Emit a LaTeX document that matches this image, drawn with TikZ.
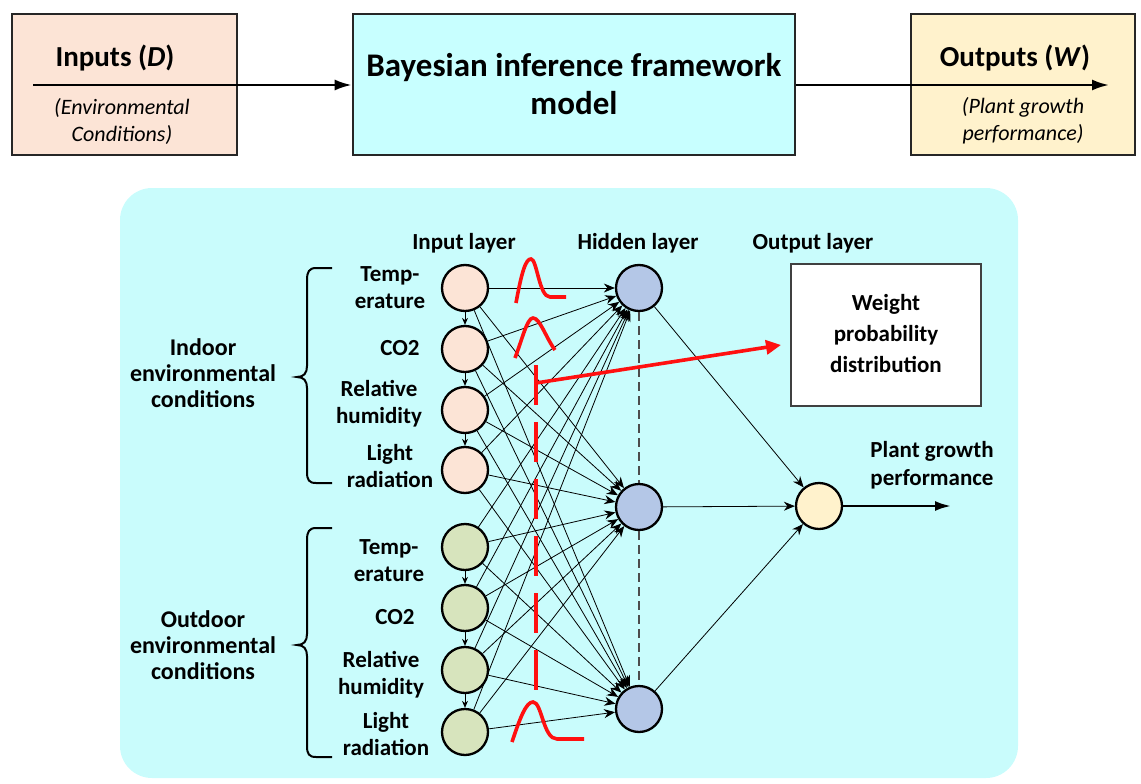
\documentclass[tikz,border=0pt]{standalone}
\usepackage{fontspec}
\setmainfont{Carlito}
\usetikzlibrary{arrows.meta,calc}
\definecolor{peach}{HTML}{FCE4D6}
\definecolor{cyanbox}{HTML}{C8FFFF}
\definecolor{panel}{HTML}{C9FCFC}
\definecolor{ylw}{HTML}{FFF2CC}
\definecolor{grn}{HTML}{D7E4BD}
\definecolor{hblue}{HTML}{B4C7E7}
\definecolor{redc}{HTML}{FF1010}
\begin{document}
\begin{tikzpicture}[x=1pt,y=-1pt,
  topbox/.style={draw=black!85,line width=2.6pt,inner sep=0pt},
  neuron/.style={circle,draw=black,line width=2.3pt,minimum size=46pt,inner sep=0pt},
  lbl/.style={font=\bfseries\fontsize{23}{27}\selectfont,align=center,inner sep=0pt},
  grp/.style={font=\bfseries\fontsize{24}{26}\selectfont,align=center,inner sep=0pt},
  conn/.style={line width=0.8pt,-{Stealth[length=11pt,width=9pt]}},
  chain/.style={line width=0.9pt,-{Stealth[length=7pt,width=6pt]}},
  bigarrow/.style={line width=2.4pt,-{Latex[length=17pt,width=11pt]}},
  redline/.style={draw=redc,line width=3.6pt},
  brc/.style={line width=2pt}
]
\useasboundingbox (0,0) rectangle (1141,784);

% ---------- top row ----------
\node[topbox,fill=peach,minimum width=225pt,minimum height=141pt] (inbox) at (124.5,84.5) {};
\node[topbox,fill=cyanbox,minimum width=442pt,minimum height=141pt] (bayes) at (574,84.5) {};
\node[topbox,fill=ylw,minimum width=224pt,minimum height=141pt] (outbox) at (1023,84.5) {};

\node[font=\bfseries\fontsize{29}{32}\selectfont,inner sep=0pt] (intitle) at (115,58) {Inputs (\textit{D})};
\node[font=\itshape\fontsize{22}{27}\selectfont,align=center,inner sep=0pt] (insub) at (122,121) {(Environmental\\Conditions)};
\node[font=\bfseries\fontsize{33}{38}\selectfont,align=center,inner sep=0pt] (bayestxt) at (574,84) {Bayesian inference framework\\model};
\node[font=\bfseries\fontsize{29}{32}\selectfont,inner sep=0pt] (outtitle) at (1015,58) {Outputs (\textit{W})};
\node[font=\itshape\fontsize{22}{27}\selectfont,align=center,inner sep=0pt] (outsub) at (1023,121) {(Plant growth\\performance)};

\coordinate (instart) at (33,85);
\coordinate (outend) at (1109,85);
\draw[bigarrow] (instart) -- (bayes.west |- instart);
\draw[bigarrow] (bayes.east |- outend) -- (outend);

% ---------- panel ----------
\fill[panel,rounded corners=32pt] (120,188) rectangle (1018,778);

% layer labels
\node[lbl] (linput) at (464,243) {Input layer};
\node[lbl] (lhidden) at (638,243) {Hidden layer};
\node[lbl] (loutput) at (813,243) {Output layer};

% input neurons
\node[neuron,fill=peach] (i1) at (465,288) {};
\node[neuron,fill=peach] (i2) at (465,349) {};
\node[neuron,fill=peach] (i3) at (465,410) {};
\node[neuron,fill=peach] (i4) at (465,470) {};
\node[neuron,fill=grn] (i5) at (465,547) {};
\node[neuron,fill=grn] (i6) at (465,608) {};
\node[neuron,fill=grn] (i7) at (465,670) {};
\node[neuron,fill=grn] (i8) at (465,732) {};

% hidden and output neurons
\node[neuron,fill=hblue] (h1) at (639,288) {};
\node[neuron,fill=hblue] (h2) at (639,507) {};
\node[neuron,fill=hblue] (h3) at (639,709) {};
\node[neuron,fill=ylw] (o1) at (819,506) {};

% chain arrows
\foreach \a/\b in {i1/i2,i2/i3,i3/i4,i5/i6,i6/i7,i7/i8}
  \draw[chain] (\a) -- (\b);

% full connections
\foreach \i in {i1,i2,i3,i4,i5,i6,i7,i8}
  \foreach \h in {h1,h2,h3}
    \draw[conn] (\i) -- (\h);

% hidden dashed
\draw[black!70,line width=1.2pt,dash pattern=on 9pt off 5pt] (h1) -- (h2);
\draw[black!70,line width=1.2pt,dash pattern=on 9pt off 5pt] (h2) -- (h3);

% hidden to output
\foreach \h in {h1,h2,h3}
  \draw[conn] (\h) -- (o1);

% output arrow
\coordinate (finalend) at (951,506);
\draw[line width=2.4pt,-{Latex[length=16pt,width=10pt]}] (o1) -- (finalend);
\node[lbl,font=\bfseries\fontsize{23}{28}\selectfont] (pgp) at (932,465) {Plant growth\\performance};

% weight box
\node[draw=black!75,line width=1.4pt,fill=white,minimum width=190pt,minimum height=142pt] (wbox) at (886,335) {};
\node[lbl,font=\bfseries\fontsize{23}{31}\selectfont] (wtxt) at (886,334) {Weight\\probability\\distribution};

% left group labels and braces
\node[lbl] (t1) at (390,288) {Temp-\\erature};
\node[lbl] (t2) at (400,348) {CO2};
\node[lbl] (t3) at (379,404) {Relative\\humidity};
\node[lbl] (t4) at (390,466) {Light\\radiation};
\node[lbl] (t5) at (389,561) {Temp-\\erature};
\node[lbl] (t6) at (395,617) {CO2};
\node[lbl] (t7) at (381,675) {Relative\\humidity};
\node[lbl] (t8) at (386,734) {Light\\radiation};

\node[grp] (indoor) at (203,373) {Indoor\\environmental\\conditions};
\node[grp] (outdoor) at (203,645) {Outdoor\\environmental\\conditions};

\draw[brc] (332,268) -- (316,268) .. controls (309,268) and (307,272) .. (307,280)
  -- (307,366) .. controls (307,373) and (304,377) .. (297,377)
  .. controls (304,377) and (307,381) .. (307,388)
  -- (307,472) .. controls (307,480) and (309,483) .. (316,483) -- (332,483);
\draw[brc] (332,528) -- (316,528) .. controls (309,528) and (307,532) .. (307,540)
  -- (307,634) .. controls (307,641) and (304,645) .. (297,645)
  .. controls (304,645) and (307,649) .. (307,656)
  -- (307,746) .. controls (307,754) and (309,757) .. (316,757) -- (332,757);

% red elements
\draw[redline] (516,303) .. controls (522,270) and (526,259) .. (531,259)
  .. controls (537,259) and (539,297) .. (550,297) -- (566,297);
\draw[redline] (515,358) .. controls (522,340) and (527,318) .. (533,318)
  .. controls (540,318) and (546,338) .. (555,350);
\draw[redline] (512,742) .. controls (520,718) and (526,702) .. (533,702)
  .. controls (542,702) and (543,739) .. (557,739) -- (584,739);
\draw[redline,dash pattern=on 40pt off 17pt] (536,365) -- (536,690);
\coordinate (rstart) at (536,383);
\coordinate (rend) at (781,345);
\draw[redline,-{Triangle[length=15pt,width=14pt]}] (rstart) -- (rend);
\end{tikzpicture}
\end{document}
